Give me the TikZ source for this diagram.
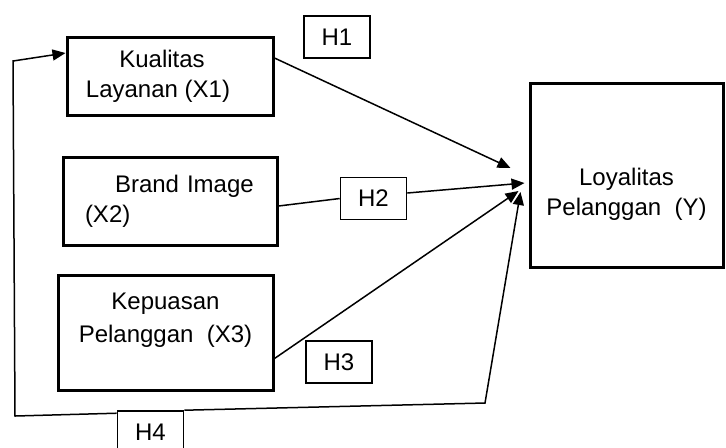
\documentclass[tikz,border=0pt]{standalone}
\usepackage{fontspec}
\setmainfont{Liberation Sans}
\usetikzlibrary{arrows.meta, positioning}

\begin{document}
\begin{tikzpicture}[x=0.5pt, y=-0.5pt,
        var/.style={draw, line width=1.5pt, align=center, inner sep=0pt,
                    font=\fontsize{12}{15}\selectfont},
        hip/.style={draw, line width=0.8pt, inner sep=0pt, minimum width=33pt,
                    minimum height=21pt, font=\fontsize{12}{15}\selectfont},
        panah/.style={line width=0.75pt, -{Triangle[length=6.5pt,width=5.5pt]}},
        garis/.style={line width=0.75pt}]
        \useasboundingbox (0,0) rectangle (726,447);
        \clip (0,0) rectangle (726,447);
        \node[var, minimum width=103pt, minimum height=39pt] (X1) at (170,76)
          {Kualitas\hspace*{8pt}\\Layanan (X1)\hspace*{12pt}};
        \node[var, minimum width=107pt, minimum height=44pt, align=left, text width=85pt] (X2) at (170,201)
          {\hspace*{15pt}Brand Image\\(X2)};
        \node[var, minimum width=107.5pt, minimum height=57.5pt] (X3) at (165.5,332.5)
          {Kepuasan\\[1.5pt]Pelanggan~~(X3)\\~};
        \node[var, minimum width=96.5pt, minimum height=92pt] (Y) at (626.5,175)
          {~\\[13pt]Loyalitas\\Pelanggan~~(Y)};
        \node[hip] (H1) at (337,37) {H1};
        \node[hip] (H2) at (373.5,198.5) {H2};
        \node[hip] (H3) at (339,362) {H3};
        \node[hip] (H4) at (150.5,432) {H4};
        \coordinate (sudut1) at (15,416);
        \coordinate (sudut2) at (13,61);
        \coordinate (sudut3) at (485,403);
        \draw[panah] ([yshift=9pt]X1.east) -- ([xshift=-9pt,yshift=3.5pt]Y.west);
        \draw[garis] ([yshift=-2.5pt]X2.east) -- (H2.west);
        \draw[panah] ([yshift=2.75pt]H2.east) -- ([xshift=-2pt,yshift=-4pt]Y.west);
        \draw[panah] ([yshift=-13pt]X3.east) -- ([xshift=-5pt,yshift=-8pt]Y.west);
        \draw[panah] ([yshift=-1.5pt]H4.north west) -- (sudut1) -- (sudut2) -- ([yshift=11.5pt]X1.west);
        \draw[panah] (H4.north east) -- (sudut3) -- ([xshift=-4pt,yshift=-8.5pt]Y.west);
      \end{tikzpicture}
\end{document}
